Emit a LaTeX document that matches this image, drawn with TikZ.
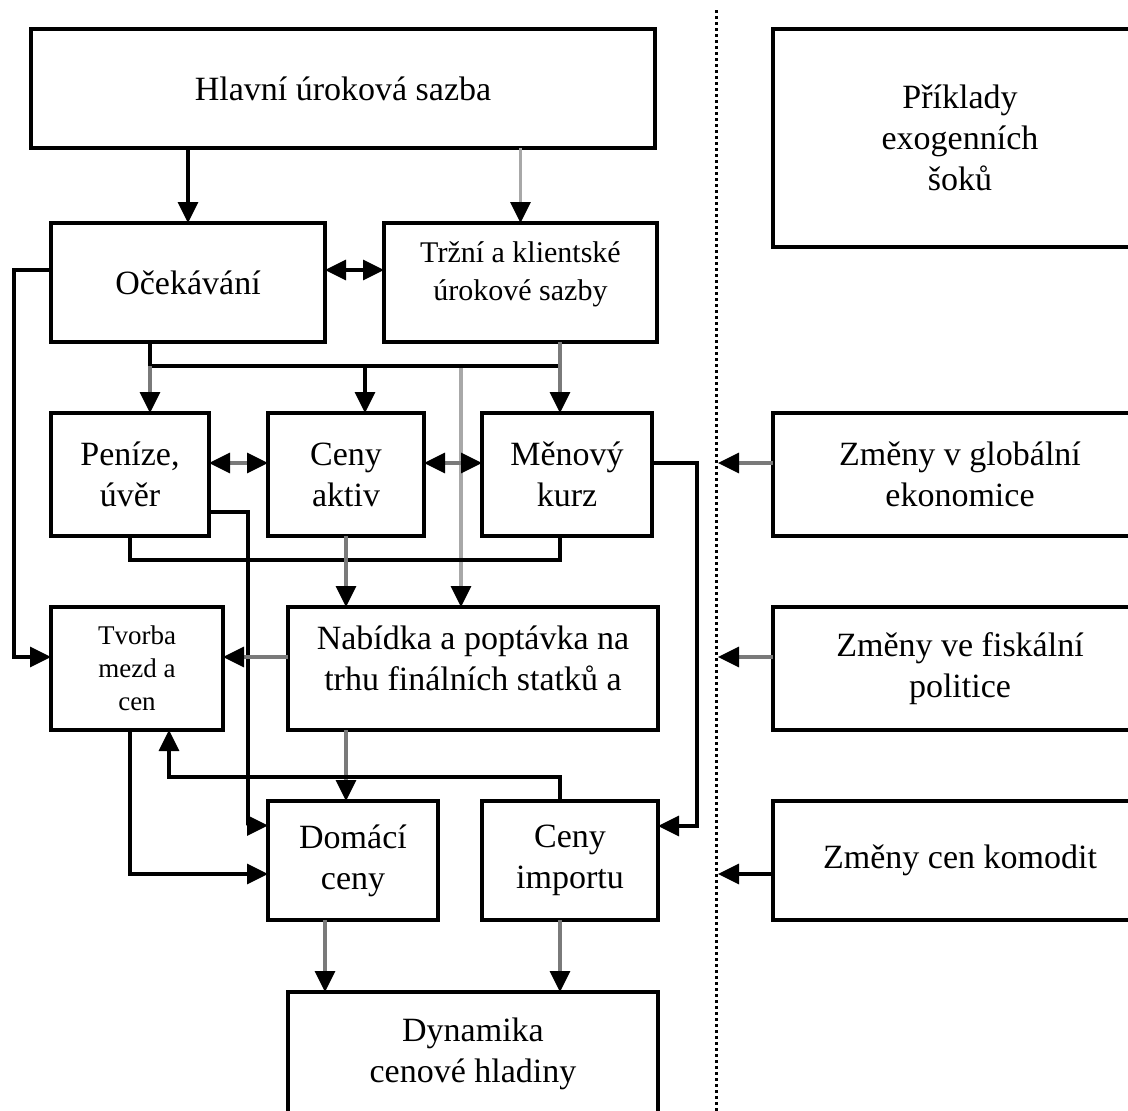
\documentclass[tikz,border=0pt]{standalone}
\usepackage{fontspec}
\setmainfont{Liberation Serif}
\usetikzlibrary{arrows.meta,calc}
\definecolor{lgray}{HTML}{A8A8A8}
\definecolor{mgray}{HTML}{7A7A7A}
\begin{document}
\begin{tikzpicture}[x=1pt,y=-1pt,
  box/.style={draw=black, line width=3.4pt, outer sep=0pt, inner sep=0pt, align=center,
    font=\fontsize{34}{41}\selectfont},
  tipb/.tip={Triangle[length=21pt,width=20pt,color=black]},
  blk/.style={draw=black, line width=3.4pt},
  gry/.style={draw=mgray, line width=3.4pt},
  lgry/.style={draw=lgray, line width=3.4pt},
  arr/.style={-tipb},
  darr/.style={tipb-tipb}
]
\useasboundingbox (0,0) rectangle (1128,1111);
\clip (0,0) rectangle (1128,1111);
\fill[white] (0,0) rectangle (1128,1111);

% boxes
\node[box, minimum width=624pt, minimum height=119pt] (hl) at (343,88.5) {Hlavní úroková sazba};
\node[box, minimum width=274pt, minimum height=119pt] (oc) at (188,282.5) {Očekávání};
\node[box, minimum width=273pt, minimum height=119pt, font=\fontsize{30}{38}\selectfont, text depth=22pt] (tr) at (520.5,282.5) {Tržní a klientské\\úrokové sazby};
\node[box, minimum width=158pt, minimum height=123pt] (pe) at (130,474.5) {Peníze,\\úvěr};
\node[box, minimum width=156pt, minimum height=123pt] (ca) at (346,474.5) {Ceny\\aktiv};
\node[box, minimum width=170pt, minimum height=123pt] (mk) at (567,474.5) {Měnový\\kurz};
\node[box, minimum width=172pt, minimum height=123pt, font=\fontsize{27}{33}\selectfont] (tv) at (137,668.5) {Tvorba\\mezd a\\cen};
\node[box, minimum width=370pt, minimum height=123pt, text depth=20pt] (nb) at (473,668.5) {Nabídka a poptávka na\\trhu finálních statků a};
\node[box, minimum width=170pt, minimum height=119pt] (dc) at (353,860.5) {Domácí\\ceny};
\node[box, minimum width=176pt, minimum height=119pt] (ci) at (570,860.5) {Ceny\\importu};
\node[box, minimum width=370pt, minimum height=124pt] (dy) at (473,1054) {Dynamika\\cenové hladiny};

\node[box, minimum width=374pt, minimum height=218pt] (px) at (960,138) {Příklady\\exogenních\\šoků};
\node[box, minimum width=374pt, minimum height=123pt] (zg) at (960,474.5) {Změny v globální\\ekonomice};
\node[box, minimum width=374pt, minimum height=123pt] (zf) at (960,668.5) {Změny ve fiskální\\politice};
\node[box, minimum width=374pt, minimum height=119pt] (zk) at (960,860.5) {Změny cen komodit};

% dotted separator
\coordinate (s1) at (716.5,10);
\coordinate (s2) at (716.5,1115);
\draw[line width=3.4pt, dash pattern=on 3pt off 3pt] (s1) -- (s2);

% junction coordinates
\coordinate (j1) at (150,366);
\coordinate (j2) at (560,366);
\coordinate (jc) at (365,366);
\coordinate (jg) at (461,368);
\coordinate (c6) at (130,560);
\coordinate (c8) at (248,825.5);
\coordinate (c9) at (14,657);
\coordinate (c11) at (697,826);
\coordinate (c13) at (169,777);
\coordinate (c14) at (130,874);

% top
\draw[blk,arr] (hl.south -| oc.north) -- (oc.north);
\draw[lgry,arr] (hl.south -| tr.north) -- (tr.north);
\draw[blk,darr] ([yshift=12.5pt]oc.east) -- ([yshift=12.5pt]tr.west);

% distribution bar
\draw[blk] (j1 |- oc.south) -- (j1) -- (j2);
\draw[gry,arr] (j1) -- (j1 |- pe.north);
\draw[blk,arr] (jc) -- (jc |- ca.north);
\draw[gry,arr] (j2 |- tr.south) -- (j2 |- mk.north);
\draw[lgry,arr] (jg) -- (jg |- nb.north);

% middle row
\draw[gry,darr] ([yshift=11.5pt]pe.east) -- ([yshift=11.5pt]ca.west);
\draw[gry,darr] ([yshift=11.5pt]ca.east) -- ([yshift=11.5pt]mk.west);
\draw[blk] (pe.south) -- (c6) -| (j2 |- mk.south);
\draw[gry,arr] (ca.south) -- (ca.south |- nb.north);
\draw[blk,arr] ([yshift=-37.5pt]pe.east) -| (c8) -- (c8 -| dc.west);
\draw[blk,arr] ([yshift=12.5pt]oc.west) -| (c9) -- (c9 -| tv.west);
\draw[gry,arr] (c9 -| nb.west) -- (c9 -| tv.east);
\draw[blk,arr] ([yshift=11.5pt]mk.east) -| (c11) -- (c11 -| ci.east);

% lower rows
\draw[gry,arr] (ca.south |- nb.south) -- (ca.south |- dc.north);
\draw[blk,arr] (ci.north -| j2) |- (c13) -- (c13 |- tv.south);
\draw[blk,arr] (c14 |- tv.south) -- (c14) -- (c14 -| dc.west);
\draw[gry,arr] ([xshift=-28pt]dc.south) -- ([xshift=-28pt]dc.south |- dy.north);
\draw[gry,arr] (ci.south -| j2) -- (j2 |- dy.north);

% exogenous shocks
\draw[gry,arr] ([yshift=11.5pt]zg.west) -- ([yshift=11.5pt,xshift=1.5pt]zg.west -| s1);
\draw[gry,arr] ([yshift=11.5pt]zf.west) -- ([yshift=11.5pt,xshift=1.5pt]zf.west -| s1);
\draw[blk,arr] ([yshift=-13.5pt]zk.west) -- ([yshift=-13.5pt,xshift=1.5pt]zk.west -| s1);
\end{tikzpicture}
\end{document}
